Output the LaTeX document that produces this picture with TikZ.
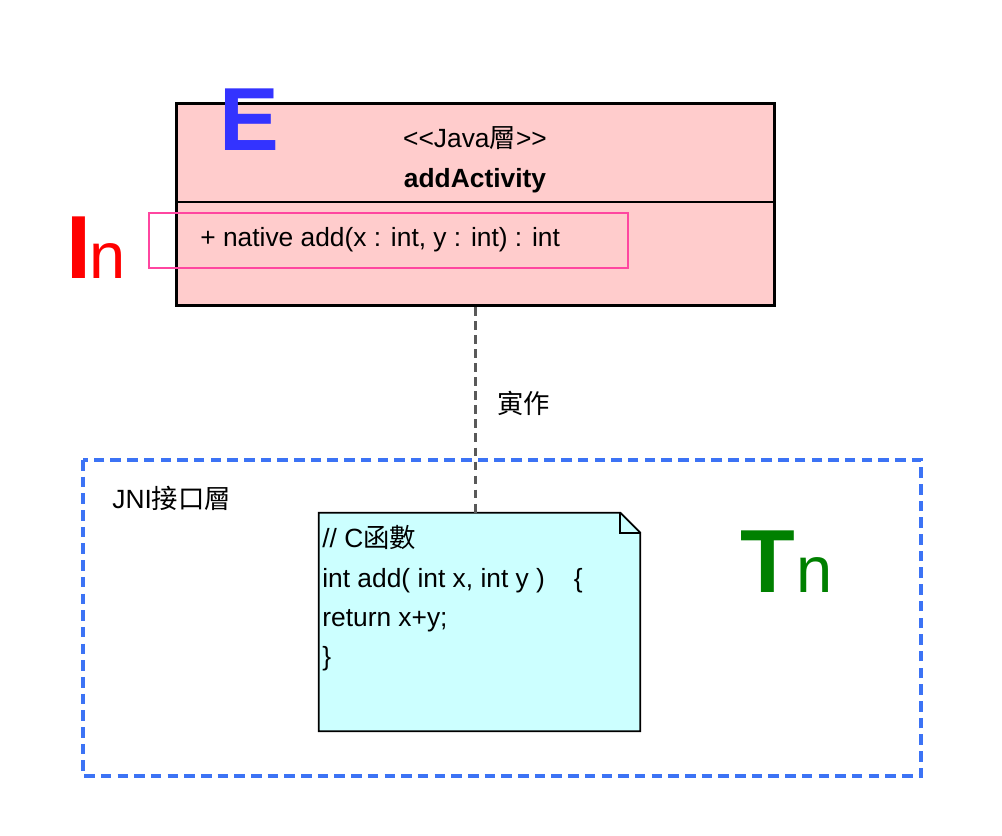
\documentclass[tikz,border=0pt]{standalone}
\usepackage{fontspec}
\setmainfont{Liberation Sans}
\newfontfamily\cjk{Noto Sans CJK TC}
\usetikzlibrary{calc}

\definecolor{classpink}{RGB}{255,204,204}
\definecolor{markpink}{RGB}{255,70,160}
\definecolor{notecyan}{RGB}{204,255,255}
\definecolor{frameblue}{RGB}{60,115,245}
\definecolor{bigblue}{RGB}{51,51,255}
\definecolor{biggreen}{RGB}{0,128,0}

\begin{document}
\begin{tikzpicture}
  [x=0.02cm, y=-0.02cm,
   txt/.style={inner sep=0pt, font=\fontsize{15}{18}\selectfont},
   big/.style={inner sep=0pt, anchor=base west, font=\fontsize{51}{51}\selectfont\bfseries},
   sub/.style={inner sep=0pt, anchor=base west, font=\fontsize{37}{37}\selectfont},
   conn/.style={draw=black!65, line width=1.5pt, dash pattern=on 5pt off 3pt}]

  \useasboundingbox (0,0) rectangle (1002,836);

  % JNI layer frame
  \draw[frameblue, line width=1.8pt, dash pattern=on 6pt off 3.5pt] (83,460) rectangle (921,776);
  \node[txt, anchor=base west] (jni) at (112,508) {JNI{\cjk 接口層}};

  % Java class
  \node[draw, line width=1.7pt, fill=classpink, minimum width=11.96cm, minimum height=4.04cm] (cls) at (475.5,204.5) {};
  \draw[line width=1.1pt] (cls.west |- 0,202) -- (cls.east |- 0,202);
  \node[txt, anchor=base] (stereo) at (475,147) {<{}<Java{\cjk 層}>{}>};
  \node[txt, anchor=base, font=\fontsize{15}{18}\selectfont\bfseries] (name) at (475,187) {addActivity};
  \node[txt, anchor=base west] (method) at (200,246) {+ native add(x : int, y : int) : int};
  \draw[markpink, line width=0.7pt] (149,213) rectangle (628,268);

  % note
  \node[minimum width=6.42cm, minimum height=4.36cm, inner sep=0pt] (note) at (479.5,622) {};
  \draw[fill=notecyan, line width=1pt] (note.north west) -- ([xshift=-0.4cm]note.north east)
    -- ([yshift=-0.4cm]note.north east) -- (note.south east) -- (note.south west) -- cycle;
  \draw[line width=1pt] ([xshift=-0.4cm]note.north east) |- ([yshift=-0.4cm]note.north east);
  \node[txt, anchor=base west] (l1) at (322,547) {// C{\cjk 函數}};
  \node[txt, anchor=base west] (l2) at (322,587) {int add( int x, int y )\hspace{1.1em}\{};
  \node[txt, anchor=base west] (l3) at (322,626) {return x+y;};
  \node[txt, anchor=base west] (l4) at (322,665) {\}};

  % realization
  \draw[conn] (cls.south) -- (cls.south |- note.north);
  \node[txt, anchor=west] (impl) at (497,403) {\cjk 寅作};

  % big letters
  \node[big, bigblue] (e) at (219,150) {E};
  \node[big, red] (ibig) at (66,278) {I};
  \node[sub, red] (isub) at (89,278) {n};
  \node[big, biggreen] (tbig) at (740,592) {T};
  \node[sub, biggreen] (tsub) at (796,592) {n};

\end{tikzpicture}
\end{document}
